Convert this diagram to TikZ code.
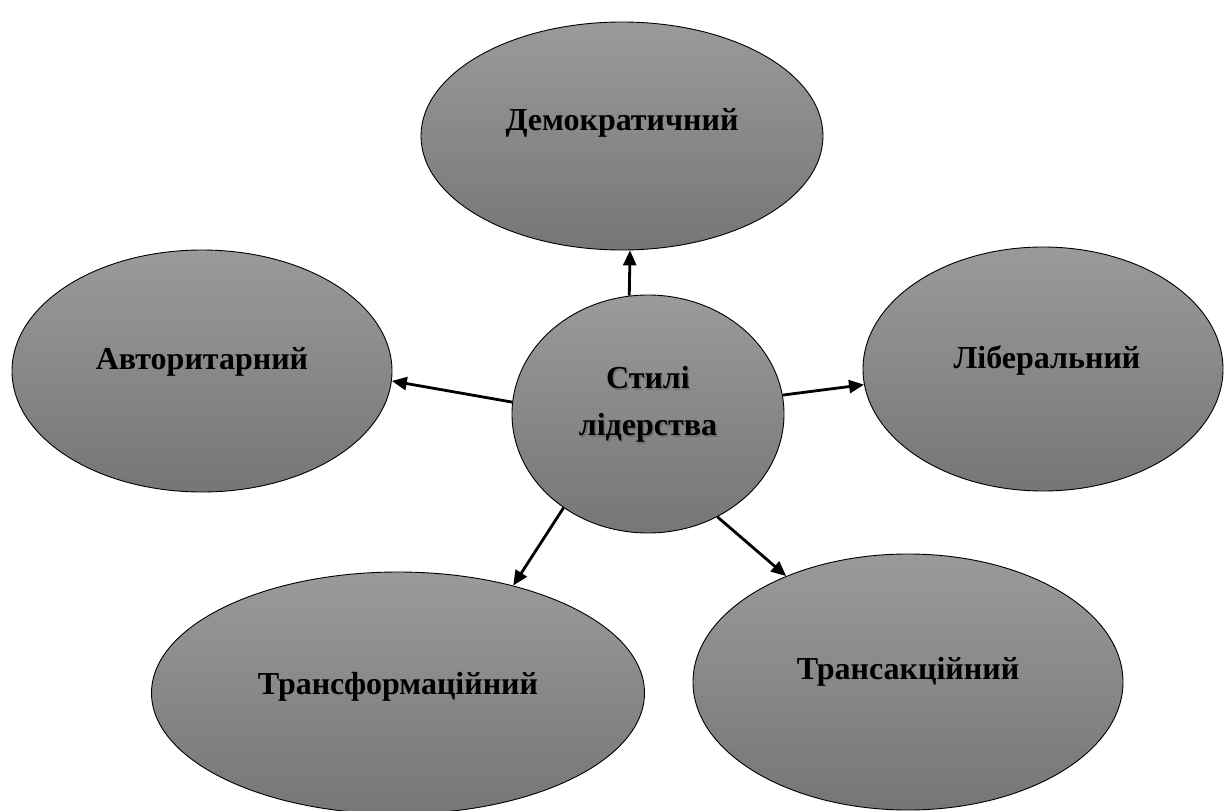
\documentclass[tikz,border=0pt]{standalone}
\usepackage{fontspec}
\setmainfont{Liberation Serif}
\usetikzlibrary{shapes.geometric,arrows.meta,positioning}
\definecolor{ovaltop}{RGB}{154,154,154}
\definecolor{ovalbot}{RGB}{118,118,118}
\tikzset{
  oval/.style={ellipse,draw=black,line width=0.9pt,top color=ovaltop,bottom color=ovalbot,inner sep=0pt},
  styletext/.style={font=\fontsize{32}{47}\selectfont\bfseries,align=center},
  link/.style={line width=2.8pt,-{Triangle[length=15pt,width=13pt]}}
}
\begin{document}
\begin{tikzpicture}[x=1pt,y=-1pt]
    \useasboundingbox (0,0) rectangle (1224,811);
      \node[oval,minimum width=402pt,minimum height=228pt] (dem) at (622,136) {};
      \node[oval,minimum width=380pt,minimum height=242pt] (avt) at (202,371) {};
      \node[oval,minimum width=360pt,minimum height=244pt] (lib) at (1043,369) {};
      \node[oval,minimum width=493pt,minimum height=242pt] (trf) at (398,693) {};
      \node[oval,minimum width=430pt,minimum height=256pt] (trs) at (908,682) {};
      \node[oval,minimum width=272pt,minimum height=238pt] (mid) at (648,414) {};

      \node[styletext] (demtext) at ([yshift=13pt]dem.center) {Демократичний};
      \node[styletext] (avttext) at ([yshift=9pt]avt.center) {Авторитарний};
      \node[styletext] (libtext) at ([xshift=4pt,yshift=9pt]lib.center) {Ліберальний};
      \node[styletext] (trftext) at ([yshift=6pt]trf.center) {Трансформаційний};
      \node[styletext] (trstext) at ([yshift=10pt]trs.center) {Трансакційний};
      \node[styletext,text=black!70,opacity=0.4] (midshadow) at ([xshift=1.5pt,yshift=8pt]mid.center) {Стилі\\лідерства};
      \node[styletext] (midtext) at ([yshift=10pt]mid.center) {Стилі\\лідерства};

      \draw[link] (mid.99) -- (dem.274);
      \draw[link] (mid.175) -- (avt.357);
      \draw[link] (mid.8) -- (lib.185);
      \draw[link] (mid.228) -- (trf.43);
      \draw[link] (mid.304) -- (trs.139);
    \end{tikzpicture}
\end{document}
